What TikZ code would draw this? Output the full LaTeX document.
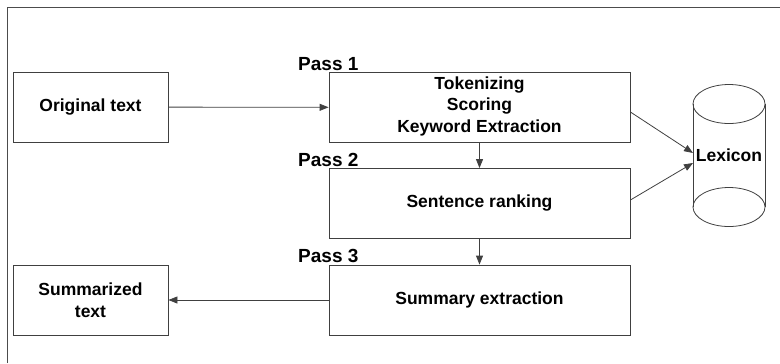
\documentclass[tikz,border=0pt]{standalone}
\usepackage{fontspec}
\setmainfont{Liberation Sans}
\usetikzlibrary{arrows.meta}
\newcommand{\boxfont}{\fontsize{17.5bp}{21.5bp}\selectfont\bfseries}
\newcommand{\passfont}{\fontsize{19bp}{22bp}\selectfont\bfseries}
\tikzset{
	box/.style={draw=black!75, line width=0.8bp, minimum width=155bp, minimum height=70bp, align=center, inner sep=2bp, font=\boxfont},
	passbox/.style={box, minimum width=301bp},
	passlabel/.style={anchor=base west, inner sep=0pt, font=\passfont},
	link/.style={draw=black!75, line width=0.8bp, -{Triangle[length=9bp,width=7bp]}}
}
\begin{document}
\begin{tikzpicture}[x=1bp, y=-1bp]
	\useasboundingbox (0,0) rectangle (780,363);
\draw [black!70, line width=0.8bp] (7,363) -- (7,7) -- (780,7);

% input and output
\node [box] (orig) at (90.5,107) {Original text};
\node [box] (summ) at (90.5,300) {Summarized\\text};

% the three passes
\node [passbox, text depth=6bp] (pass1) at (479.5,107.5) {Tokenizing\\Scoring\\Keyword Extraction};
\node [passbox] (pass2) at (479.5,203.5) {Sentence ranking};
\node [passbox] (pass3) at (479.5,300) {Summary extraction};
\node [passlabel] (p1) at (298,70) {Pass 1};
\node [passlabel] (p2) at (298,166) {Pass 2};
\node [passlabel] (p3) at (298,262) {Pass 3};

% lexicon
\draw [black!75, line width=0.8bp] (729,104) ellipse [x radius=36bp, y radius=19.5bp];
\draw [black!75, line width=0.8bp] (729,207) ellipse [x radius=36bp, y radius=19.5bp];
\draw [black!75, line width=0.8bp] (693,104) -- (693,207);
\draw [black!75, line width=0.8bp] (765,104) -- (765,207);
\node [font=\boxfont, inner sep=0pt] (lex) at (729,155) {Lexicon};
\coordinate (lexin1) at (693,153);
\coordinate (lexin2) at (693,163);

\draw [link] (orig) -- (pass1);
\draw [link] (pass1) -- (pass2);
\draw [link] (pass2) -- (pass3);
\draw [link] (pass3) -- (summ);
\draw [link] (pass1.east |- 0,112) -- (lexin1);
\draw [link] (pass2.east |- 0,200) -- (lexin2);
	\end{tikzpicture}
\end{document}
